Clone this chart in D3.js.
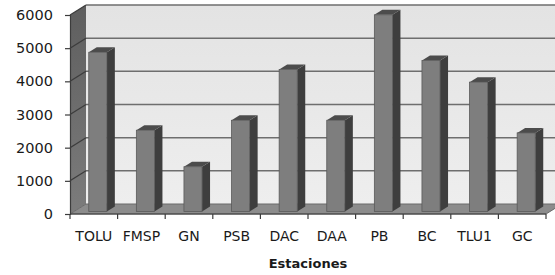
<!DOCTYPE html>
<html>
<head>
<meta charset="utf-8">
<script src="https://cdn.jsdelivr.net/npm/d3@7"></script>
<style>
    body { margin: 0; background: #fff; }
    text { font-family: "DejaVu Sans", sans-serif; fill: #1a1a1a; }
</style>
</head>
<body>
<div id="chart"></div>
<script>
const categories = ['TOLU', 'FMSP', 'GN', 'PSB', 'DAC', 'DAA', 'PB', 'BC', 'TLU1', 'GC'];
const values = [4800, 2450, 1350, 2750, 4280, 2750, 5930, 4550, 3900, 2370];
const yTicks = [0, 1000, 2000, 3000, 4000, 5000, 6000];
const xTitle = 'Estaciones';

const chartW = 555, chartH = 275;
const plotLeft = 70, plotRight = 546, plotBottom = 214, plotTop = 15;
const depthX = 16, depthY = -10; // offset of back wall

const svg = d3.select('#chart').append('svg')
    .attr('width', chartW)
    .attr('height', chartH);

const x = d3.scaleBand().domain(categories).range([plotLeft, plotRight]).padding(0);
const y = d3.scaleLinear().domain([0, 6000]).range([plotBottom, plotTop]);

// project a point at depth z (0 front, 1 back)
const px = (xv, z) => xv + depthX * z;
const py = (yv, z) => yv + depthY * z;

const defs = svg.append('defs');
const wallGrad = defs.append('linearGradient').attr('id', 'wall').attr('x1', 0).attr('y1', 0).attr('x2', 0).attr('y2', 1);
wallGrad.append('stop').attr('offset', '0%').attr('stop-color', '#e3e3e3');
wallGrad.append('stop').attr('offset', '100%').attr('stop-color', '#eeeeee');
const sideGrad = defs.append('linearGradient').attr('id', 'side').attr('x1', 0).attr('y1', 0).attr('x2', 0).attr('y2', 1);
sideGrad.append('stop').attr('offset', '0%').attr('stop-color', '#5e5e5e');
sideGrad.append('stop').attr('offset', '100%').attr('stop-color', '#7c7c7c');

// back wall
svg.append('rect')
    .attr('x', px(plotLeft, 1))
    .attr('y', py(y(6000), 1))
    .attr('width', chartW)
    .attr('height', y(0) - y(6000))
    .attr('fill', 'url(#wall)');

// side wall
svg.append('polygon')
    .attr('points', [[plotLeft, y(6000)], [px(plotLeft, 1), py(y(6000), 1)], [px(plotLeft, 1), py(y(0), 1)], [plotLeft, y(0)]].join(' '))
    .attr('fill', 'url(#side)');

// grid lines: back wall + side wall
yTicks.filter(d => d > 0).forEach(v => {
    svg.append('line')
        .attr('x1', px(plotLeft, 1)).attr('x2', chartW)
        .attr('y1', py(y(v), 1)).attr('y2', py(y(v), 1))
        .attr('stroke', '#6e6e6e').attr('stroke-width', 1.5);
    svg.append('line')
        .attr('x1', plotLeft).attr('x2', px(plotLeft, 1))
        .attr('y1', y(v)).attr('y2', py(y(v), 1))
        .attr('stroke', '#3c3c3c').attr('stroke-width', 1.2);
});

// floor
svg.append('polygon')
    .attr('points', [[plotLeft, y(0)], [plotRight, y(0)], [px(plotRight, 1), py(y(0), 1)], [px(plotLeft, 1), py(y(0), 1)]].join(' '))
    .attr('fill', '#8c8c8c')
    .attr('stroke', '#6a6a6a')
    .attr('stroke-width', 1);

// bars
const barW = x.bandwidth() * 0.38;
const z0 = 0.25, z1 = 0.75;
const bars = svg.selectAll('.bar')
    .data(categories.map((c, i) => ({ name: c, value: values[i] })))
    .enter().append('g')
    .attr('class', 'bar');

bars.each(function(d) {
    const g = d3.select(this);
    const xl = x(d.name) + x.bandwidth() / 2 - barW / 2;
    const xr = xl + barW;
    const yt = y(d.value), yb = y(0);
    // right side face
    g.append('polygon')
        .attr('points', [[px(xr, z0), py(yt, z0)], [px(xr, z1), py(yt, z1)], [px(xr, z1), py(yb, z1)], [px(xr, z0), py(yb, z0)]].join(' '))
        .attr('fill', '#3e3e3e');
    // top face
    g.append('polygon')
        .attr('points', [[px(xl, z0), py(yt, z0)], [px(xr, z0), py(yt, z0)], [px(xr, z1), py(yt, z1)], [px(xl, z1), py(yt, z1)]].join(' '))
        .attr('fill', '#4c4c4c');
    // front face
    g.append('rect')
        .attr('x', px(xl, z0))
        .attr('y', py(yt, z0))
        .attr('width', barW)
        .attr('height', yb - yt)
        .attr('fill', '#7e7e7e')
        .attr('stroke', '#5a5a5a')
        .attr('stroke-width', 0.8);
});

// y axis
const yAxis = svg.append('g')
    .attr('transform', `translate(${plotLeft},0)`)
    .call(d3.axisLeft(y).tickValues(yTicks).tickSize(5).tickPadding(12).tickFormat(d3.format('d')));
yAxis.select('.domain').attr('stroke', '#3c3c3c').attr('stroke-width', 1.2);
yAxis.selectAll('.tick line').attr('stroke', '#3c3c3c').attr('stroke-width', 1.2);
yAxis.selectAll('text').style('font-size', '14.5px').style('fill', '#1a1a1a').style('font-family', '"DejaVu Sans", sans-serif');

// x axis (front floor edge)
svg.append('line')
    .attr('x1', plotLeft).attr('x2', plotRight)
    .attr('y1', plotBottom).attr('y2', plotBottom)
    .attr('stroke', '#3c3c3c').attr('stroke-width', 1.2);
svg.selectAll('.xtick')
    .data(categories.concat(['end']))
    .enter().append('line')
    .attr('class', 'xtick')
    .attr('x1', (d, i) => plotLeft + i * x.step()).attr('x2', (d, i) => plotLeft + i * x.step())
    .attr('y1', plotBottom).attr('y2', plotBottom + 5)
    .attr('stroke', '#3c3c3c').attr('stroke-width', 1.2);

const xAxis = svg.append('g')
    .attr('transform', `translate(0,${plotBottom})`)
    .call(d3.axisBottom(x).tickSize(0).tickPadding(17));
xAxis.select('.domain').remove();
xAxis.selectAll('text').style('font-size', '14px').style('fill', '#1a1a1a').style('font-family', '"DejaVu Sans", sans-serif');

svg.append('text')
    .attr('x', (plotLeft + plotRight) / 2)
    .attr('y', 268)
    .attr('text-anchor', 'middle')
    .style('font-size', '13px')
    .style('font-weight', 'bold')
    .text(xTitle);
</script>
</body>
</html>
